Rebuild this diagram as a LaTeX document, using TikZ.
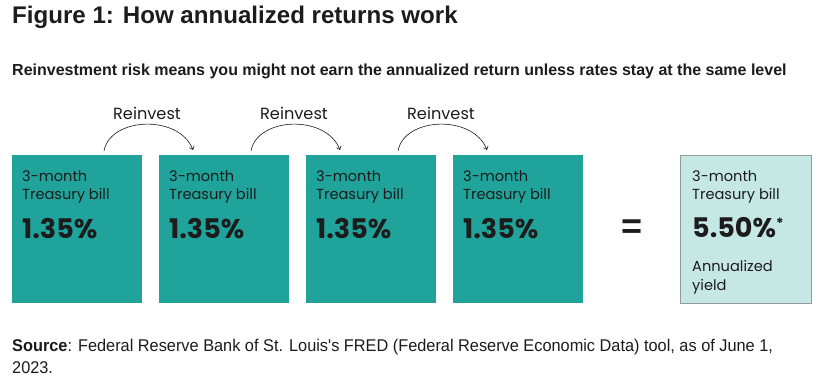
\documentclass[tikz,border=0pt]{standalone}
\usepackage{fontspec}
\setmainfont{Liberation Sans}
\newfontfamily\boxfont{Poppins}
\newfontfamily\narrowfont[FakeStretch=0.96]{Liberation Sans}
\usetikzlibrary{arrows.meta}
\definecolor{tealbox}{RGB}{31,163,154}
\definecolor{lteal}{RGB}{198,232,229}
\definecolor{ink}{RGB}{28,28,28}
\begin{document}
\begin{tikzpicture}[x=1pt,y=-1pt,
  tbox/.style={minimum width=130pt,minimum height=148pt,inner sep=0pt,outer sep=0pt,fill=tealbox,draw=none},
  rbox/.style={minimum width=131pt,minimum height=148pt,inner sep=0pt,outer sep=0pt,fill=lteal,draw=gray!80,line width=0.8pt},
  smalltxt/.style={anchor=mid west,inner sep=0pt,font=\boxfont\fontsize{14.6}{17}\selectfont,text=ink},
  bigtxt/.style={anchor=mid west,inner sep=0pt,font=\boxfont\bfseries\fontsize{27}{30}\selectfont,text=ink},
  reinv/.style={inner sep=0pt,font=\boxfont\fontsize{16.2}{18}\selectfont,text=ink},
  arc/.style={-{Straight Barb[length=3pt,width=5pt]},line width=0.6pt,draw=ink}
]
\useasboundingbox[fill=white] (0,0) rectangle (822,384);
% title
\node[anchor=mid west,inner sep=0pt,font=\bfseries\fontsize{24.1}{27}\selectfont,text=ink] (title) at (12,21) {Figure 1: How annualized returns work};
\node[anchor=mid west,inner sep=0pt,font=\bfseries\fontsize{16}{18}\selectfont,text=ink] (sub) at (12,73) {Reinvestment risk means you might not earn the annualized return unless rates stay at the same level};
% boxes
\foreach \i/\x in {1/77,2/224,3/371,4/518}{
  \node[tbox] (b\i) at (\x,229) {};
  \node[smalltxt] (m\i) at (\x-55,179) {3-month};
  \node[smalltxt] (t\i) at (\x-55,197) {Treasury bill};
  \node[bigtxt] (p\i) at (\x-55,236) {1.35\%};
}
% arcs
\foreach \i/\j in {1/2,2/3,3/4}{
  \coordinate (s\i) at ([shift={(-38,-4)}]b\i.north east);
  \coordinate (e\i) at ([shift={(34,-5)}]b\j.north west);
  \draw[arc] (s\i) .. controls ([shift={(6,-34)}]s\i) and ([shift={(-14,-36)}]e\i) .. (e\i);
  \node[reinv] (r\i) at ([shift={(43,-38)}]s\i) {Reinvest};
}
% equals
\node[inner sep=0pt,font=\bfseries\fontsize{36}{36}\selectfont,text=ink] (eq) at (632,229) {=};
% result
\node[rbox] (res) at (745.5,229) {};
\node[smalltxt] (rm) at (692,179) {3-month};
\node[smalltxt] (rt) at (692,197) {Treasury bill};
\node[bigtxt] (rp) at (692,235) {5.50\%\textsuperscript{\fontsize{14}{14}\selectfont*}};
\node[smalltxt] (ra) at (692,269) {Annualized};
\node[smalltxt] (ry) at (692,288) {yield};
% source
\node[anchor=base west,inner sep=0pt,font=\narrowfont\fontsize{17}{20}\selectfont,text=ink] (src) at (12,351) {\textbf{Source}: Federal Reserve Bank of St. Louis's FRED (Federal Reserve Economic Data) tool, as of June 1,};
\node[anchor=base west,inner sep=0pt,font=\narrowfont\fontsize{17}{20}\selectfont,text=ink] (src2) at (12,373) {2023.};
\end{tikzpicture}
\end{document}
